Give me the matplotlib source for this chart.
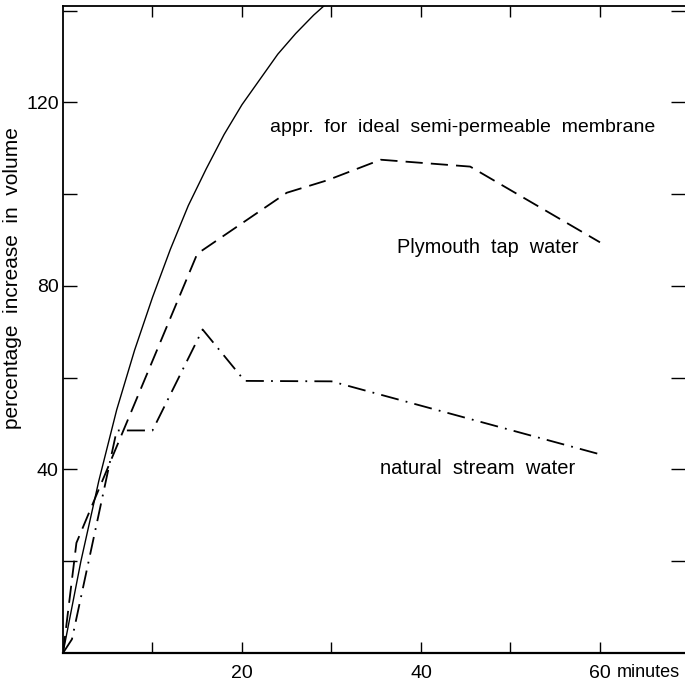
import matplotlib.pyplot as plt
import matplotlib.transforms as mtransforms

# time in minutes, percentage increase in volume
ideal_t = [0, 2, 4, 6, 8, 10, 12, 14, 16, 18, 20, 22, 24, 26, 28, 30]
ideal_v = [0, 20, 37.5, 53, 66, 77.5, 88, 97.5, 105.5, 113, 119.5, 125, 130.5, 135, 139, 142.5]

tap_t = [0, 1.5, 15, 25, 29.5, 35.5, 45.5, 60]
tap_v = [0, 24, 87, 100.3, 103, 107.5, 106, 89.5]

stream_t = [0, 1, 6, 10, 15.6, 20.3, 30, 60]
stream_v = [0, 3, 48.5, 48.5, 70.5, 59.3, 59.2, 43.3]

x_major = [20, 40, 60]
x_minor = [10, 30, 50]
y_major = [40, 80, 120]
y_minor = [20, 60, 100, 140]

plt.rcParams['font.family'] = ['Liberation Sans', 'DejaVu Sans']
plt.rcParams['font.size'] = 14

fig = plt.figure(figsize=(6.85, 6.84), dpi=100)
ax = fig.add_axes([63 / 685, 31 / 684, 622 / 685, 647 / 684])

ax.plot(ideal_t, ideal_v, color='black', lw=1.0)
ax.plot(tap_t, tap_v, color='black', lw=1.3, linestyle=(0, (9.5, 4.5)))
ax.plot(stream_t, stream_v, color='black', lw=1.3, linestyle=(0, (10, 4, 1, 4)))

ax.set_xlim(0, 69.5)
ax.set_ylim(0, 141)

ax.set_xticks(x_major)
ax.set_xticks(x_minor, minor=True)
ax.set_yticks(y_major)
ax.set_yticks(y_minor, minor=True)
ax.tick_params(which='both', direction='in', top=True, right=True,
               length=8, width=1.0, labelsize=14)
ax.tick_params(axis='y', which='both', length=10)
ax.tick_params(axis='x', pad=9)
ax.tick_params(axis='y', pad=3)

for s in ['left', 'bottom', 'top']:
    ax.spines[s].set_linewidth(1.3)
ax.spines['bottom'].set_linewidth(1.6)
ax.spines['right'].set_visible(False)

trans = mtransforms.blended_transform_factory(ax.transData, ax.transAxes)
ax.text(61.9, -0.0375, 'minutes', transform=trans, ha='left', va='baseline', fontsize=13)

ax.set_ylabel('percentage  increase  in  volume', fontsize=15)
ax.yaxis.set_label_coords(-0.066, 0.58)

ax.text(23.1, 114.5, 'appr.  for  ideal  semi-permeable  membrane', va='center')
ax.text(37.3, 88.3, 'Plymouth  tap  water', va='center', fontsize=14.3)
ax.text(35.4, 40.2, 'natural  stream  water', va='center', fontsize=14.5)

fig.savefig('out.png', dpi=100)
